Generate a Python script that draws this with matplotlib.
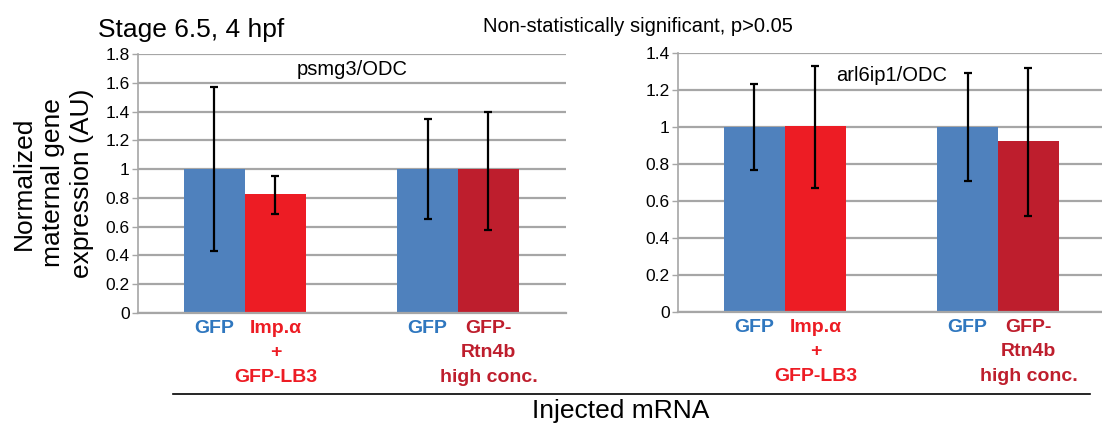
import numpy as np
import matplotlib
matplotlib.use("Agg")
import matplotlib.pyplot as plt

plt.rcParams["font.family"] = ["Liberation Sans", "DejaVu Sans"]

# data
groups = [["Imp.α", "+", "GFP-LB3"], ["GFP-", "Rtn4b", "high conc."]]
control_label = "GFP"

psmg3_gfp = [1.0, 1.0]
psmg3_gfp_err = [0.57, 0.345]
psmg3_treat = [0.83, 1.0]
psmg3_treat_err_low = [0.14, 0.42]
psmg3_treat_err_high = [0.12, 0.40]

arl6ip1_gfp = [1.0, 1.0]
arl6ip1_gfp_err_low = [0.23, 0.29]
arl6ip1_gfp_err_high = [0.23, 0.29]
arl6ip1_treat = [1.005, 0.927]
arl6ip1_treat_err_low = [0.335, 0.407]
arl6ip1_treat_err_high = [0.325, 0.392]

BLUE = "#4F81BD"
BLUE_TXT = "#2F77BF"
RED = "#ED1C24"
DARK_RED = "#BE1E2D"
TREAT_COLORS = [RED, DARK_RED]
GRID = "#A6A6A6"

W, H = 1102, 426
fig = plt.figure(figsize=(W / 100, H / 100), dpi=100)


def panel(rect, ctrl, ctrl_err, treat, treat_err, ymax, title, title_y):
    ax = fig.add_axes(rect)
    x = np.arange(len(ctrl))
    bw = 0.286
    ax.bar(x - bw / 2, ctrl, bw, color=BLUE, zorder=2)
    ax.bar(x + bw / 2, treat, bw, color=TREAT_COLORS, zorder=2)
    ek = dict(fmt="none", ecolor="black", elinewidth=1.6, capsize=3, capthick=1.6, zorder=3)
    ax.errorbar(x - bw / 2, ctrl, yerr=ctrl_err, **ek)
    ax.errorbar(x + bw / 2, treat, yerr=treat_err, **ek)
    ax.set_xlim(-0.502, 1.507)
    ax.set_ylim(0, ymax)
    ticks = np.arange(0, ymax + 0.01, 0.2)
    ax.set_yticks(ticks)
    ax.set_yticklabels(["0" if v == 0 else ("1" if abs(v - 1) < 1e-9 else f"{v:.1f}")
                        for v in ticks])
    ax.yaxis.grid(True, color=GRID, linewidth=1.6, zorder=0)
    ax.set_axisbelow(True)
    for s in ["top", "right"]:
        ax.spines[s].set_visible(False)
    ax.spines["left"].set_color(GRID)
    ax.spines["left"].set_linewidth(1.2)
    ax.spines["bottom"].set_color(GRID)
    ax.spines["bottom"].set_linewidth(1.6)
    ax.tick_params(axis="y", length=4, width=1, color=GRID, labelsize=12.5, pad=2)
    ax.tick_params(axis="x", length=0)
    ax.set_xticks([])
    ax.text(0.5, title_y, title, transform=ax.transAxes, ha="center", va="center",
            fontsize=14.5)
    # category labels, one text per line
    for i, g in enumerate(groups):
        ax.annotate(control_label, xy=(x[i] - bw / 2, 0), xycoords=("data", "axes fraction"),
                    xytext=(0, -11), textcoords="offset points", ha="center", va="center",
                    fontsize=14, fontweight="bold", color=BLUE_TXT)
        for j, line in enumerate(g):
            ax.annotate(line, xy=(x[i] + bw / 2, 0), xycoords=("data", "axes fraction"),
                        xytext=(0, -11 - 17.6 * j), textcoords="offset points",
                        ha="center", va="center", fontsize=14, fontweight="bold",
                        color=TREAT_COLORS[i])
    return ax


ax1 = panel([138 / W, 1 - 313 / H, 428 / W, 259 / H], psmg3_gfp, psmg3_gfp_err, psmg3_treat,
            [psmg3_treat_err_low, psmg3_treat_err_high], 1.8, "psmg3/ODC", 0.94)
ax2 = panel([678 / W, 1 - 312 / H, 428 / W, 259 / H], arl6ip1_gfp,
            [arl6ip1_gfp_err_low, arl6ip1_gfp_err_high], arl6ip1_treat,
            [arl6ip1_treat_err_low, arl6ip1_treat_err_high], 1.4, "arl6ip1/ODC", 0.915)

fig.text(98 / W, 1 - 30 / H, "Stage 6.5, 4 hpf", ha="left", va="center", fontsize=19)
fig.text(638 / W, 1 - 26 / H, "Non-statistically significant, p>0.05", ha="center",
         va="center", fontsize=14.5)
fig.text(53 / W, 1 - 183 / H, "Normalized\nmaternal gene\nexpression (AU)", ha="center",
         va="center", rotation=90, fontsize=19, linespacing=1.25)
fig.add_artist(plt.Line2D([173 / W, 1090 / W], [1 - 394 / H, 1 - 394 / H], color="black",
                          linewidth=1.2))
fig.text(621 / W, 1 - 411 / H, "Injected mRNA", ha="center", va="center", fontsize=19)

fig.savefig("out.png", dpi=100)
